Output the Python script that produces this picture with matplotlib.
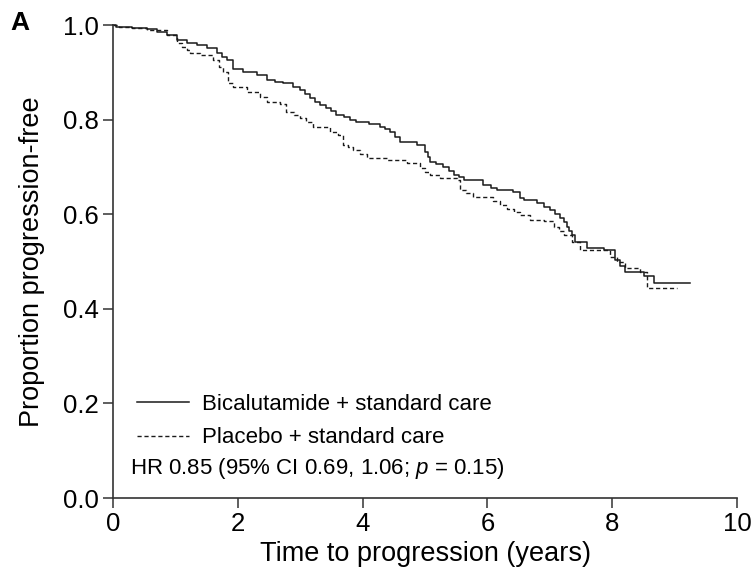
import matplotlib.pyplot as plt

# Kaplan-Meier estimates
bical_time = [0.0, 0.05, 0.3, 0.54, 0.7, 0.86, 1.02, 1.18, 1.34, 1.5, 1.66, 1.74, 1.82, 1.93,
              2.09, 2.3, 2.46, 2.6, 2.73, 2.88, 3.0, 3.08, 3.16, 3.24, 3.32, 3.42, 3.5, 3.58,
              3.7, 3.8, 3.9, 4.1, 4.28, 4.36, 4.44, 4.52, 4.6, 4.87, 5.0, 5.04, 5.08, 5.18,
              5.29, 5.38, 5.46, 5.54, 5.62, 5.93, 6.05, 6.15, 6.41, 6.52, 6.58, 6.79, 6.9,
              7.0, 7.08, 7.16, 7.22, 7.27, 7.31, 7.35, 7.4, 7.59, 7.86, 8.04, 8.12, 8.2,
              8.5, 8.67]
bical_surv = [1.0, 0.995, 0.993, 0.991, 0.985, 0.979, 0.968, 0.961, 0.958, 0.951, 0.94, 0.933,
              0.926, 0.908, 0.901, 0.894, 0.884, 0.880, 0.877, 0.870, 0.863, 0.854, 0.845,
              0.838, 0.831, 0.825, 0.818, 0.81, 0.805, 0.8, 0.796, 0.79, 0.785, 0.78, 0.774,
              0.763, 0.753, 0.746, 0.732, 0.722, 0.711, 0.706, 0.7, 0.692, 0.683, 0.678,
              0.672, 0.662, 0.656, 0.651, 0.648, 0.634, 0.63, 0.623, 0.616, 0.609, 0.6,
              0.591, 0.583, 0.574, 0.565, 0.556, 0.542, 0.528, 0.524, 0.503, 0.49, 0.478,
              0.469, 0.454]
bical_end = 9.25

placebo_time = [0.0, 0.1, 0.3, 0.54, 0.86, 1.02, 1.1, 1.18, 1.23, 1.39, 1.61, 1.7, 1.77, 1.85,
                1.93, 2.14, 2.36, 2.46, 2.68, 2.78, 2.9, 3.0, 3.1, 3.21, 3.48, 3.61, 3.69,
                3.77, 3.85, 3.96, 4.07, 4.39, 4.71, 4.92, 5.0, 5.08, 5.24, 5.51, 5.56, 5.66,
                5.77, 6.09, 6.2, 6.31, 6.42, 6.52, 6.68, 6.9, 7.06, 7.14, 7.22, 7.35, 7.48,
                7.8, 7.96, 8.07, 8.2, 8.45, 8.55]
placebo_surv = [1.0, 0.995, 0.993, 0.99, 0.979, 0.961, 0.954, 0.947, 0.94, 0.937, 0.926, 0.912,
                0.901, 0.877, 0.87, 0.859, 0.848, 0.838, 0.834, 0.817, 0.81, 0.803, 0.794,
                0.785, 0.774, 0.767, 0.746, 0.743, 0.736, 0.727, 0.718, 0.715, 0.708, 0.697,
                0.69, 0.683, 0.676, 0.672, 0.651, 0.644, 0.637, 0.627, 0.619, 0.612, 0.605,
                0.598, 0.588, 0.585, 0.574, 0.565, 0.556, 0.542, 0.524, 0.524, 0.51, 0.5,
                0.486, 0.478, 0.443]
placebo_end = 9.03

x_ticks = [0, 2, 4, 6, 8, 10]
y_ticks = [0.0, 0.2, 0.4, 0.6, 0.8, 1.0]
series_labels = ["Bicalutamide + standard care", "Placebo + standard care"]
hr_text = "HR 0.85 (95% CI 0.69, 1.06; $\\it{p}$ = 0.15)"

plt.rcParams["font.family"] = ["Liberation Sans", "DejaVu Sans"]
plt.rcParams["mathtext.fontset"] = "custom"
plt.rcParams["mathtext.it"] = "Liberation Sans:italic"

fig = plt.figure(figsize=(7.53, 5.74), dpi=100)
ax = fig.add_axes([0.150, 0.1324, 0.829, 0.824])

ax.step(bical_time + [bical_end], bical_surv + [bical_surv[-1]], where="post",
        color="#1a1a1a", lw=1.1, ls="-", label=series_labels[0], clip_on=False)
ax.step(placebo_time + [placebo_end], placebo_surv + [placebo_surv[-1]], where="post",
        color="#1a1a1a", lw=1.0, ls=(0, (3.0, 2.0)), label=series_labels[1], clip_on=False)

ax.set_xlim(0, 10)
ax.set_ylim(0, 1.0)
ax.set_xticks(x_ticks)
ax.set_yticks(y_ticks)
ax.set_yticklabels([f"{v:.1f}" for v in y_ticks])
ax.tick_params(direction="out", length=7, width=1.1, labelsize=18.5, color="#333333", pad=3)
for side in ("top", "right"):
    ax.spines[side].set_visible(False)
for side in ("left", "bottom"):
    ax.spines[side].set_linewidth(1.2)
    ax.spines[side].set_color("#333333")

ax.set_xlabel("Time to progression (years)", fontsize=19.5, labelpad=4)
ax.set_ylabel("Proportion progression-free", fontsize=19.5, labelpad=13)

ax.legend(loc="center left", bbox_to_anchor=(0.038, 0.162), frameon=False, fontsize=16,
          handlelength=2.35, handletextpad=0.6, labelspacing=0.55,
          borderpad=0, borderaxespad=0)
ax.text(0.027, 0.063, hr_text, transform=ax.transAxes, fontsize=16, va="center", ha="left")

fig.text(0.014, 0.96, "A", fontsize=19, fontweight="bold", va="center")

fig.savefig("out.png", dpi=100)
